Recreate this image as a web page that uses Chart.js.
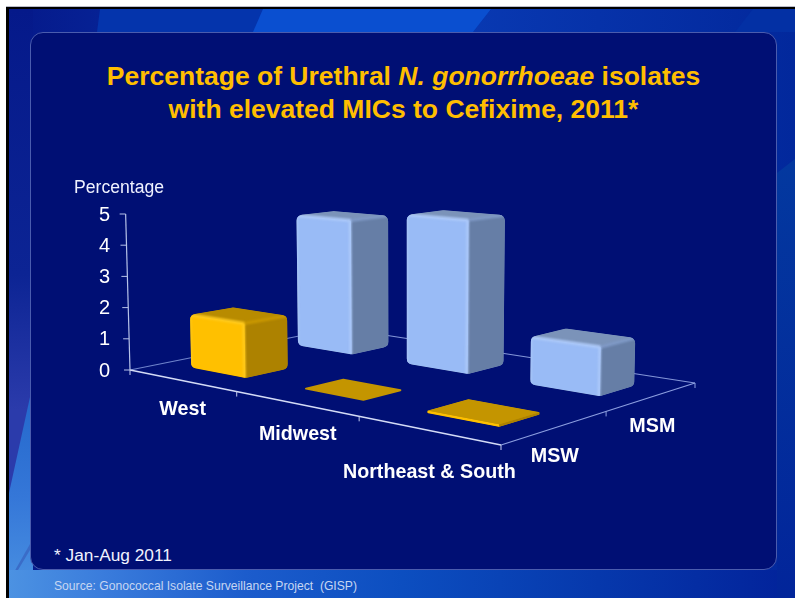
<!DOCTYPE html>
<html lang="en">
<head>
  <meta charset="UTF-8" />
  <title>Percentage of Urethral N. gonorrhoeae isolates with elevated MICs to Cefixime, 2011</title>
  <script src="https://cdn.jsdelivr.net/npm/chart.js"></script>
  <style>
    html, body { margin: 0; padding: 0; background: #fff; }
    body { width: 795px; height: 598px; position: relative; overflow: hidden; font-family: "Liberation Sans", Arial, sans-serif; }
    .topline { position: absolute; left: 6px; right: 0; top: 6px; height: 1px; background: #b9bcc9; }
    .slide { position: absolute; left: 6px; top: 7px; width: 789px; height: 591px; background: #000; }
    .bg { position: absolute; left: 9px; top: 9px; width: 786px; height: 589px; overflow: hidden;
          background: linear-gradient(to right, #05198a 0%, #0a3cb6 50%, #02289c 100%); }
    .bg div { position: absolute; }
    .band1 { left: 0; top: 0; width: 786px; height: 30px; background: #0434ac; clip-path: polygon(91px 0, 482px 0, 464px 23px, 88px 23px); }
    .band2 { left: 0; top: 0; width: 786px; height: 30px; background: #0a4fd0; clip-path: polygon(254px 0, 482px 0, 464px 23px, 244px 23px); }
    .band3 { left: 0; top: 0; width: 786px; height: 30px; background: #0330a4; clip-path: polygon(744px 0, 786px 0, 786px 23px, 726px 23px); }
    .leftstrip { left: 0; top: 0; width: 24px; height: 589px; background: linear-gradient(to bottom, #05198a 0%, #0c2494 45%, #2b3bab 68%, #2b3bab 100%); }
    .leftglow { left: 0; top: 388px; width: 24px; height: 201px; background: linear-gradient(to bottom, #2468cc 0%, #3577d8 50%, #4b92e2 100%); clip-path: polygon(21px 0, 24px 0, 24px 201px, 0 201px, 0 96px); }
    .leftwedge { left: 0; top: 500px; width: 24px; height: 89px; background: #3a6cc8; clip-path: polygon(21px 35px, 21px 41px, 0 76px, 0 72px); }
    .bottomstrip { left: 0; top: 561px; width: 786px; height: 28px; background: linear-gradient(to right, #4c92e2 0%, #3a7cdc 12%, #1c5ccc 30%, #0c4ec0 50%, #0638ac 75%, #02229a 100%); }
    .rightglow { left: 768px; top: 150px; width: 18px; height: 439px; background: linear-gradient(to bottom, #03389f, #02259a); clip-path: polygon(0 14px, 18px 0, 18px 439px, 0 439px); }
    .panel { position: absolute; left: 30px; top: 32px; width: 747px; height: 538px; box-sizing: border-box; background: #000f74;
             border: 1.5px solid #4a5cae; border-radius: 13px; }
    h1 { position: absolute; left: 0; top: 60px; width: 807px; margin: 0; text-align: center; color: #ffbe00;
         font-size: 26.5px; line-height: 33px; font-weight: bold; }
    .foot { position: absolute; left: 54px; top: 545px; color: #f0f2ff; font-size: 17.3px; line-height: 20px; }
    .source { position: absolute; left: 54px; top: 579px; color: #c6d6f2; font-size: 12.15px; line-height: 14px; white-space: pre; }
    canvas { position: absolute; left: 0; top: 0; }
  </style>
</head>
<body>
  <div class="topline"></div>
  <div class="slide"></div>
  <div class="bg">
    <div class="band1"></div>
    <div class="band2"></div>
    <div class="band3"></div>
    <div class="leftstrip"></div>
    <div class="leftglow"></div>
    <div class="leftwedge"></div>
    <div class="bottomstrip"></div>
    <div class="rightglow"></div>
  </div>
  <div class="panel"></div>
  <h1>Percentage of Urethral <i>N. gonorrhoeae</i> isolates<br>with elevated MICs to Cefixime, 2011*</h1>
  <div class="foot">* Jan-Aug 2011</div>
  <div class="source">Source: Gonococcal Isolate Surveillance Project  (GISP)</div>
  <canvas id="chart3d" width="795" height="598"></canvas>

  <script>
    const categories = ["West", "Midwest", "Northeast & South"];
    const seriesNames = ["MSW", "MSM"];
    const mswValues = [1.7, 0, 0.07];
    const msmValues = [4.5, 4.85, 1.45];
    const yTicks = [0, 1, 2, 3, 4, 5];
    const yTitle = "Percentage";

    // corners of the floor on screen, used to turn scale fractions into a perspective view
    const floor = { a: [130, 370], b: [501, 445], c: [695, 383], d: [339, 328] };
    const axisPx = 156;      // length of the value axis at the left corner
    const leanX = 410, leanK = 0.0001;
    const depthPct = 0.38;
    const catLabelOffset = [[1, 29], [2, 31], [2, 42]];
    const seriesLabelOffset = [[-1, 29], [0, 30]];

    const dx1 = floor.b[0] - floor.c[0], dx2 = floor.d[0] - floor.c[0], sx = floor.a[0] - floor.b[0] + floor.c[0] - floor.d[0];
    const dy1 = floor.b[1] - floor.c[1], dy2 = floor.d[1] - floor.c[1], sy = floor.a[1] - floor.b[1] + floor.c[1] - floor.d[1];
    const den = dx1 * dy2 - dx2 * dy1;
    const g = (sx * dy2 - dx2 * sy) / den, h = (dx1 * sy - sx * dy1) / den;
    const ma = floor.b[0] - floor.a[0] + g * floor.b[0], mb = floor.d[0] - floor.a[0] + h * floor.d[0];
    const md = floor.b[1] - floor.a[1] + g * floor.b[1], me = floor.d[1] - floor.a[1] + h * floor.d[1];

    // u along categories, v along depth, t = fraction of the value axis
    function project(u, v, t) {
      const w = 1 + g * u + h * v;
      const x = (ma * u + mb * v + floor.a[0]) / w;
      const y = (md * u + me * v + floor.a[1]) / w;
      const up = (t || 0) * axisPx / w;
      return [x + (x - leanX) * leanK * up, y - up];
    }

    function roundedPoly(ctx, pts, r) {
      const n = pts.length;
      ctx.beginPath();
      ctx.moveTo((pts[n - 1][0] + pts[0][0]) / 2, (pts[n - 1][1] + pts[0][1]) / 2);
      for (let i = 0; i < n; i++) {
        const p = pts[i], q = pts[(i + 1) % n];
        ctx.arcTo(p[0], p[1], q[0], q[1], r);
      }
      ctx.closePath();
    }

    function poly(ctx, pts, color) {
      ctx.beginPath();
      pts.forEach((p, i) => i ? ctx.lineTo(p[0], p[1]) : ctx.moveTo(p[0], p[1]));
      ctx.closePath();
      ctx.fillStyle = color;
      ctx.fill();
    }

    function line(ctx, p, q, color, width) {
      ctx.beginPath();
      ctx.moveTo(p[0], p[1]);
      ctx.lineTo(q[0], q[1]);
      ctx.strokeStyle = color;
      ctx.lineWidth = width;
      ctx.stroke();
    }

    function drawBox(ctx, u0, u1, v0, v1, t, c) {
      const fl = project(u0, v0, 0), f = project(u1, v0, 0), r = project(u1, v1, 0);
      const tl = project(u0, v0, t), tf = project(u1, v0, t), tr = project(u1, v1, t), tb = project(u0, v1, t);
      const tall = fl[1] - tl[1] > 10;
      const flat = fl[1] - tl[1] < 1;
      ctx.save();
      roundedPoly(ctx, flat ? [tl, tf, tr, tb] : [fl, f, r, tr, tb, tl], tall ? 6 : 1);
      ctx.fillStyle = tall ? c.top : c.flatTop;
      ctx.fill();
      ctx.clip();
      if (!flat) {
        poly(ctx, [tl, tf, f, fl], c.front);
        poly(ctx, [tf, tr, r, f], c.side);
        poly(ctx, [tl, tb, tr, tf], tall ? c.top : c.flatTop);
      }
      ctx.filter = "blur(1px)";
      if (tall) {
        line(ctx, tl, tf, c.edge, 3);
        line(ctx, tf, tr, c.edgeDark, 3);
        line(ctx, [tf[0] - 1, tf[1]], [f[0] - 1, f[1]], c.edge, 2.5);
        line(ctx, tl, fl, c.edge, 2);
      }
      ctx.filter = "none";
      ctx.restore();
    }

    const boxStyles = [
      { front: "#ffc000", side: "#ad8200", top: "#b88b00", flatTop: "#c49500", edge: "#ffcb1f", edgeDark: "#c99800" },
      { front: "#99bbf6", side: "#667ea6", top: "#7b93b9", flatTop: "#7b93b9", edge: "#aecaf9", edgeDark: "#7f99c6" }
    ];

    const perspectivePlugin = {
      id: "perspective",
      beforeDatasetsDraw(chart) {
        const ctx = chart.ctx, xs = chart.scales.x, ys = chart.scales.y, zs = chart.scales.z;
        ctx.save();
        // floor edges, value axis and ticks
        line(ctx, project(0, 0), project(0, 1), "#6f84cc", 1.2);
        line(ctx, project(0, 1), project(1, 1), "#8396d8", 1.2);
        line(ctx, project(1, 0), project(1, 1), "#8c9fe0", 1.2);
        line(ctx, project(0, 0), project(1, 0), "#d4dcf6", 1.4);
        ys.ticks.forEach(tk => {
          const p = project(0, 0, (ys.bottom - ys.getPixelForValue(tk.value)) / ys.height);
          line(ctx, p, [p[0] - 6, p[1]], "#b6c2e8", 1);
        });
        line(ctx, project(0, 0, 0), project(0, 0, 1), "#b6c2e8", 1.2);
        categories.forEach((name, i) => {
          const u = (xs.getPixelForValue(i) + xs.width / categories.length / 2 - xs.left) / xs.width;
          const p = project(u, 0);
          line(ctx, p, [p[0], p[1] + 5], "#c4cef0", 1);
        });
        const p0 = project(0, 0);
        line(ctx, p0, [p0[0], p0[1] + 5], "#c4cef0", 1);
        seriesNames.forEach((name, i) => {
          const v = (zs.getPixelForValue(i) + zs.width / seriesNames.length / 2 - zs.left) / zs.width;
          const p = project(1, v);
          line(ctx, p, [p[0], p[1] + 5], "#8c9fe0", 1);
        });

        // text
        ctx.textBaseline = "middle";
        ctx.fillStyle = "#ffffff";
        ctx.font = "20px 'Liberation Sans'";
        ctx.textAlign = "right";
        ys.ticks.forEach(tk => {
          const p = project(0, 0, (ys.bottom - ys.getPixelForValue(tk.value)) / ys.height);
          ctx.fillText(String(tk.value), 110, p[1] + 1);
        });
        ctx.fillStyle = "#f0f2ff";
        ctx.font = "17.6px 'Liberation Sans'";
        ctx.textAlign = "left";
        ctx.fillText(yTitle, 74, 188);
        ctx.fillStyle = "#ffffff";
        ctx.font = "bold 19.7px 'Liberation Sans'";
        ctx.textAlign = "center";
        categories.forEach((name, i) => {
          const u = (xs.getPixelForValue(i) - xs.left) / xs.width;
          const p = project(u, 0);
          ctx.fillText(name, p[0] + catLabelOffset[i][0], p[1] + catLabelOffset[i][1]);
        });
        seriesNames.forEach((name, i) => {
          const v = (zs.getPixelForValue(i) - zs.left) / zs.width;
          const p = project(1, v);
          ctx.fillText(name, p[0] + seriesLabelOffset[i][0], p[1] + seriesLabelOffset[i][1]);
        });

        // boxes, back row first
        const zBand = 1 / seriesNames.length;
        for (let ds = chart.data.datasets.length - 1; ds >= 0; ds--) {
          const meta = chart.getDatasetMeta(ds);
          const vc = (zs.getPixelForValue(ds) - zs.left) / zs.width;
          meta.data.forEach(el => {
            const u0 = (el.x - el.width / 2 - xs.left) / xs.width;
            const u1 = (el.x + el.width / 2 - xs.left) / xs.width;
            const t = (el.base - el.y) / ys.height;
            drawBox(ctx, u0, u1, vc - zBand * depthPct / 2, vc + zBand * depthPct / 2, t, boxStyles[ds]);
          });
        }
        ctx.restore();
      }
    };

    const ctx = document.getElementById("chart3d").getContext("2d");
    const chart = new Chart(ctx, {
      type: "bar",
      data: {
        labels: categories,
        datasets: [
          { label: seriesNames[0], data: mswValues, backgroundColor: "transparent", grouped: false },
          { label: seriesNames[1], data: msmValues, backgroundColor: "transparent", grouped: false }
        ]
      },
      options: {
        responsive: false,
        animation: false,
        events: [],
        categoryPercentage: 1,
        barPercentage: 0.51,
        plugins: { legend: { display: false }, tooltip: { enabled: false } },
        scales: {
          x: { display: false, offset: true },
          y: { display: false, min: yTicks[0], max: yTicks[yTicks.length - 1], ticks: { stepSize: 1 } },
          z: { display: false, axis: "x", type: "category", labels: seriesNames, offset: true }
        }
      },
      plugins: [perspectivePlugin]
    });
  </script>
</body>
</html>
